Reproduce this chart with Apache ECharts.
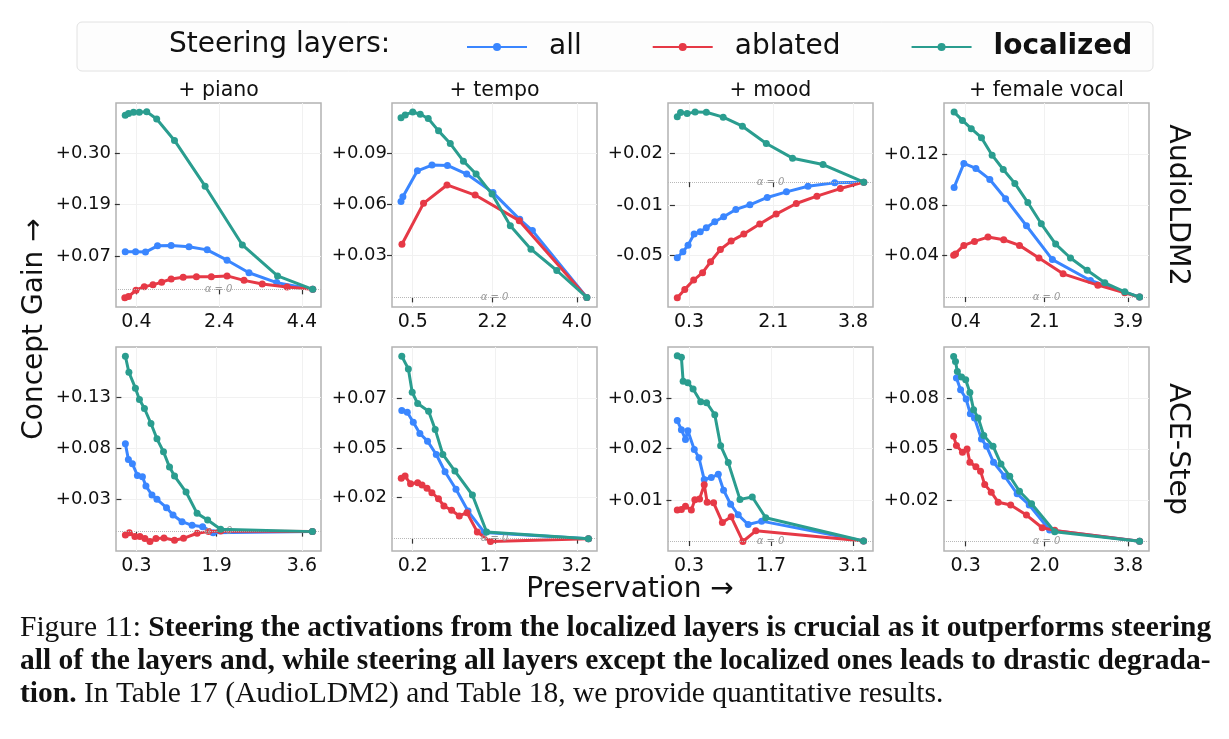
<!DOCTYPE html>
<html>
<head>
<meta charset="utf-8">
<title>Steering layers</title>
<script src="https://cdn.jsdelivr.net/npm/echarts@6/dist/echarts.min.js"></script>
<style>
html, body { margin: 0; padding: 0; background: #fff; }
#chart { width: 1229px; height: 739px; }
</style>
</head>
<body>
<div id="chart"></div>
<script>
'use strict';

// [preservation, concept gain] pairs
var pianoAll = [[0.13,0.084],[0.38,0.084],[0.62,0.083],[0.91,0.097],[1.24,0.098],[1.67,0.095],[2.11,0.088],[2.59,0.065],[3.12,0.037],[3.79,0.015],[4.66,0]];
var pianoAblated = [[0.12,-0.019],[0.21,-0.016],[0.39,-0.002],[0.59,0.006],[0.80,0.010],[1.01,0.016],[1.24,0.023],[1.53,0.027],[1.85,0.028],[2.21,0.028],[2.59,0.030],[3.00,0.020],[3.44,0.012],[4.04,0.005],[4.66,0]];
var pianoLocalized = [[0.13,0.388],[0.21,0.392],[0.33,0.395],[0.47,0.395],[0.65,0.396],[0.89,0.380],[1.32,0.332],[2.06,0.230],[2.96,0.099],[3.81,0.030],[4.66,0]];

var tempoAll = [[0.25,0.0588],[0.29,0.0618],[0.60,0.0777],[0.91,0.0812],[1.24,0.0810],[1.65,0.0757],[2.21,0.0643],[2.78,0.0479],[3.05,0.041],[4.21,0]];
var tempoAblated = [[0.27,0.0326],[0.73,0.0577],[1.23,0.069],[1.83,0.0628],[2.77,0.0471],[4.21,0]];
var tempoLocalized = [[0.25,0.1102],[0.34,0.112],[0.50,0.1138],[0.66,0.1124],[0.83,0.1098],[1.05,0.1022],[1.30,0.0944],[1.58,0.0836],[1.85,0.0757],[2.19,0.0634],[2.58,0.0439],[3.02,0.0296],[3.57,0.0165],[4.21,0]];

var moodAll = [[0.05,-0.0485],[0.17,-0.0447],[0.28,-0.0404],[0.41,-0.0333],[0.54,-0.0318],[0.67,-0.0293],[0.85,-0.0254],[1.04,-0.0222],[1.30,-0.0175],[1.60,-0.0145],[1.97,-0.0098],[2.38,-0.0062],[2.84,-0.0026],[3.41,-0.0004],[4.03,0]];
var moodAblated = [[0.05,-0.0742],[0.21,-0.0688],[0.40,-0.0628],[0.59,-0.0581],[0.76,-0.0511],[0.97,-0.0432],[1.20,-0.0378],[1.47,-0.0333],[1.81,-0.0269],[2.16,-0.0205],[2.59,-0.0137],[3.03,-0.009],[3.53,-0.0041],[4.03,0]];
var moodLocalized = [[0.05,0.0419],[0.12,0.0447],[0.26,0.0440],[0.43,0.0451],[0.67,0.0449],[1.03,0.0417],[1.44,0.0359],[1.95,0.0248],[2.51,0.0154],[3.16,0.0113],[4.03,0]];

var vocalAll = [[0.15,0.094],[0.36,0.1145],[0.62,0.1102],[0.92,0.1008],[1.26,0.0843],[1.71,0.0611],[2.27,0.0321],[3.09,0.0142],[4.15,0]];
var vocalAblated = [[0.14,0.0358],[0.18,0.0369],[0.36,0.0443],[0.59,0.0477],[0.88,0.0514],[1.22,0.0491],[1.56,0.0443],[1.98,0.0335],[2.50,0.0199],[3.25,0.0102],[3.83,0.0037],[4.15,0]];
var vocalLocalized = [[0.15,0.1585],[0.33,0.1514],[0.52,0.1443],[0.74,0.1366],[0.97,0.1216],[1.21,0.1093],[1.46,0.0974],[1.74,0.081],[2.03,0.0628],[2.34,0.0454],[2.66,0.0335],[3.02,0.023],[3.40,0.0122],[3.83,0.0045],[4.15,0]];

var acePianoAll = [[0.08,0.0866],[0.14,0.0712],[0.22,0.0669],[0.32,0.0554],[0.42,0.0541],[0.49,0.0449],[0.61,0.0361],[0.71,0.0318],[0.90,0.0236],[1.03,0.0164],[1.21,0.0098],[1.41,0.0062],[1.62,0.0049],[1.83,-0.001],[3.81,0]];
var acePianoAblated = [[0.08,-0.0033],[0.16,-0.001],[0.27,-0.0049],[0.37,-0.0049],[0.47,-0.0069],[0.57,-0.0098],[0.69,-0.0069],[0.85,-0.0062],[1.06,-0.0085],[1.24,-0.0066],[1.51,-0.0016],[1.74,0],[1.98,0.0007],[3.81,0]];
var acePianoLocalized = [[0.08,0.1729],[0.15,0.1571],[0.28,0.1414],[0.36,0.1302],[0.46,0.1214],[0.59,0.1066],[0.71,0.0915],[0.84,0.0787],[0.96,0.0636],[1.06,0.0548],[1.29,0.039],[1.51,0.018],[1.72,0.0115],[1.98,0.0023],[3.81,0]];

var aceTempoAll = [[0.0,0.0655],[0.10,0.0646],[0.21,0.0595],[0.33,0.0537],[0.47,0.0498],[0.63,0.043],[0.79,0.0342],[0.99,0.0252],[1.21,0.0141],[1.51,0.0031],[3.41,0]];
var aceTempoAblated = [[-0.01,0.0308],[0.06,0.032],[0.16,0.028],[0.29,0.0286],[0.37,0.0274],[0.46,0.0257],[0.55,0.0235],[0.67,0.0204],[0.77,0.0167],[0.91,0.0145],[1.05,0.0116],[1.19,0.0133],[1.38,0.0034],[1.62,-0.0015],[3.41,0]];
var aceTempoLocalized = [[0.0,0.0932],[0.12,0.0867],[0.19,0.0748],[0.29,0.069],[0.49,0.0651],[0.61,0.0558],[0.75,0.043],[0.97,0.0345],[1.29,0.0223],[1.55,0.0034],[3.41,0]];

var aceMoodAll = [[0.10,0.0249],[0.17,0.023],[0.24,0.021],[0.28,0.0228],[0.39,0.0189],[0.47,0.0172],[0.56,0.0127],[0.68,0.0131],[0.80,0.0138],[0.89,0.0105],[1.01,0.0076],[1.14,0.0054],[1.31,0.0034],[1.54,0.0041],[3.28,0]];
var aceMoodAblated = [[0.10,0.0064],[0.17,0.0065],[0.24,0.0072],[0.34,0.0064],[0.40,0.0085],[0.48,0.0087],[0.56,0.0116],[0.61,0.008],[0.72,0.0079],[0.87,0.0038],[1.02,0.005],[1.22,-0.0001],[1.44,0.0021],[3.28,0]];
var aceMoodLocalized = [[0.10,0.0383],[0.17,0.038],[0.20,0.033],[0.28,0.0327],[0.37,0.0314],[0.50,0.0288],[0.60,0.0286],[0.74,0.0261],[0.84,0.0197],[0.97,0.0162],[1.17,0.0086],[1.38,0.0091],[1.61,0.0048],[3.28,0]];

var aceVocalAll = [[0.10,0.0863],[0.19,0.0801],[0.31,0.0752],[0.40,0.0674],[0.49,0.0652],[0.64,0.0541],[0.75,0.0502],[0.90,0.0418],[1.14,0.0344],[1.41,0.0251],[1.67,0.0192],[2.11,0.006],[4.05,0]];
var aceVocalAblated = [[0.04,0.0555],[0.10,0.0506],[0.23,0.0471],[0.33,0.0488],[0.39,0.0418],[0.52,0.0394],[0.62,0.0371],[0.71,0.030],[0.85,0.026],[1.00,0.0207],[1.27,0.0192],[1.61,0.0139],[1.95,0.0072],[2.22,0.0058],[4.05,0]];
var aceVocalLocalized = [[0.04,0.0977],[0.08,0.095],[0.12,0.0898],[0.21,0.0868],[0.30,0.0854],[0.39,0.0787],[0.47,0.0696],[0.57,0.0652],[0.69,0.0559],[0.89,0.0503],[1.06,0.0409],[1.25,0.0344],[1.46,0.0265],[1.72,0.0199],[2.22,0.0051],[4.05,0]];

var panelTitles = ['+ piano', '+ tempo', '+ mood', '+ female vocal'];
var rowNames = ['AudioLDM2', 'ACE-Step'];
var seriesNames = ['all', 'ablated', 'localized'];
var seriesColors = ['#3a86ff', '#e63946', '#2a9d8f'];

var xTicks = [[0.4,2.4,4.4],[0.5,2.2,4.0],[0.3,2.1,3.8],[0.4,2.1,3.9],[0.3,1.9,3.6],[0.2,1.7,3.2],[0.3,1.7,3.1],[0.3,2.0,3.8]];
var yTicks = [[0.074,0.189,0.304],[0.0257,0.0572,0.0887],[-0.0472,-0.0149,0.0188],[0.0356,0.079,0.1226],
              [0.0318,0.082,0.132],[0.0209,0.0461,0.0719],[0.00846,0.0191,0.0295],[0.0218,0.0489,0.0758]];
var xRanges = [[-0.093,4.86],[0.058,4.427],[-0.148,4.227],[-0.068,4.353],[-0.107,3.981],[-0.179,3.566],[-0.0585,3.441],[-0.168,4.253]];
var yRanges = [[-0.0394,0.4155],[-0.0059,0.1193],[-0.0801,0.0508],[-0.0085,0.1663],
               [-0.0191,0.182],[-0.0063,0.0979],[-0.00207,0.0401],[-0.0051,0.1027]];

var panels = [
   [pianoAll, pianoAblated, pianoLocalized],
   [tempoAll, tempoAblated, tempoLocalized],
   [moodAll, moodAblated, moodLocalized],
   [vocalAll, vocalAblated, vocalLocalized],
   [acePianoAll, acePianoAblated, acePianoLocalized],
   [aceTempoAll, aceTempoAblated, aceTempoLocalized],
   [aceMoodAll, aceMoodAblated, aceMoodLocalized],
   [aceVocalAll, aceVocalAblated, aceVocalLocalized]
];

var sans = 'DejaVu Sans';
var serif = 'Liberation Serif';
var colLeft = [116, 392, 668, 944];
var rowTop = [103, 347];
var boxW = 205, boxH = 204;

var grids = [], xAxes = [], yAxes = [], series = [];

panels.forEach(function (lines, i) {
   var r = Math.floor(i / 4), c = i % 4;
   grids.push({
      left: colLeft[c], top: rowTop[r], width: boxW, height: boxH,
      show: true, borderColor: '#b3b3b3', borderWidth: 1.5
   });
   xAxes.push({
      type: 'value', gridIndex: i, min: xRanges[i][0], max: xRanges[i][1],
      axisLine: { show: false },
      axisTick: { show: true, length: 5, customValues: xTicks[i], lineStyle: { color: '#333', width: 1.2 } },
      axisLabel: {
         customValues: xTicks[i], margin: 6, fontSize: 19, color: '#111', fontFamily: sans,
         formatter: function (v) { return v.toFixed(1); }
      },
      splitLine: { show: true, lineStyle: { color: '#f1f1f1', width: 1 } }
   });
   yAxes.push({
      type: 'value', gridIndex: i, min: yRanges[i][0], max: yRanges[i][1],
      axisLine: { show: false },
      axisTick: { show: true, length: 5, customValues: yTicks[i], lineStyle: { color: '#333', width: 1.2 } },
      axisLabel: {
         customValues: yTicks[i], margin: 5, fontSize: 18, color: '#111', fontFamily: sans,
         formatter: function (v) { return (v >= 0 ? '+' : '') + v.toFixed(2); }
      },
      splitLine: { show: true, lineStyle: { color: '#f1f1f1', width: 1 } }
   });
   lines.forEach(function (pts, j) {
      var s = {
         type: 'line', name: seriesNames[j], xAxisIndex: i, yAxisIndex: i,
         data: pts, symbol: 'circle', symbolSize: 7, showSymbol: true,
         lineStyle: { width: 3, color: seriesColors[j] },
         itemStyle: { color: seriesColors[j] },
         z: 3 + j, animation: false
      };
      if (j === 0) {
         s.markLine = {
            silent: true, symbol: ['none', 'none'], animation: false,
            data: [{ yAxis: 0 }],
            lineStyle: { type: 'dotted', color: '#b8b8b8', width: 1 },
            label: {
               show: true, position: 'middle', formatter: 'α = 0', distance: -5,
               color: '#999', fontSize: 10, fontStyle: 'italic', fontFamily: sans
            }
         };
      }
      series.push(s);
   });
});

var graphics = [
   { type: 'rect', z: 0, shape: { x: 77, y: 22, width: 1076, height: 49, r: 5 },
     style: { fill: '#fdfdfd', stroke: '#e2e2e2', lineWidth: 1 } },
   { type: 'text', x: 169, y: 45, style: { text: 'Steering layers:', fontSize: 28, fontFamily: sans, fill: '#111', verticalAlign: 'middle' } },
   { type: 'text', x: 35, y: 329, rotation: Math.PI / 2,
     style: { text: 'Concept Gain →', fontSize: 28, fontFamily: sans, fill: '#111', align: 'center', verticalAlign: 'middle' } },
   { type: 'text', x: 630, y: 590,
     style: { text: 'Preservation →', fontSize: 28, fontFamily: sans, fill: '#111', align: 'center', verticalAlign: 'middle' } }
];
panelTitles.forEach(function (t, c) {
   graphics.push({ type: 'text', x: colLeft[c] + boxW / 2, y: 91,
      style: { text: t, fontSize: 20.5, fontFamily: sans, fill: '#111', align: 'center', verticalAlign: 'middle' } });
});
rowNames.forEach(function (t, r) {
   graphics.push({ type: 'text', x: 1177, y: rowTop[r] + boxH / 2, rotation: -Math.PI / 2,
      style: { text: t, fontSize: 28.5, fontFamily: sans, fill: '#111', align: 'center', verticalAlign: 'middle' } });
});

var captionLines = [
   '{n|Figure 11: }{b|Steering the activations from the localized layers is crucial as it outperforms steering}',
   '{b|all of the layers and, while steering all layers except the localized ones leads to drastic degrada-}',
   '{b|tion.}{n| In Table 17 (AudioLDM2) and Table 18, we provide quantitative results.}'
];
captionLines.forEach(function (t, k) {
   graphics.push({ type: 'text', x: 20, y: 628 + k * 33,
      style: {
         text: t, verticalAlign: 'middle',
         rich: {
            n: { fontSize: 29.5, fontFamily: serif, fill: '#111', color: '#111' },
            b: { fontSize: 29.5, fontFamily: serif, fontWeight: 'bold', fill: '#111', color: '#111' }
         }
      } });
});

var chart = echarts.init(document.getElementById('chart'));
chart.setOption({
   animation: false,
   backgroundColor: '#fff',
   legend: {
      data: seriesNames, left: 461, top: 28, itemWidth: 60, itemHeight: 10, itemGap: 70,
      formatter: function (name) { return name === 'localized' ? '{b|' + name + '}' : '{n|' + name + '}'; },
      textStyle: {
         fontSize: 28, fontFamily: sans, color: '#111',
         rich: {
            n: { fontSize: 28, fontFamily: sans, color: '#111', padding: [0, 0, 0, 17] },
            b: { fontSize: 28, fontFamily: sans, color: '#111', fontWeight: 'bold', padding: [0, 0, 0, 17] }
         }
      }
   },
   grid: grids,
   xAxis: xAxes,
   yAxis: yAxes,
   graphic: graphics,
   series: series
});
</script>
</body>
</html>
